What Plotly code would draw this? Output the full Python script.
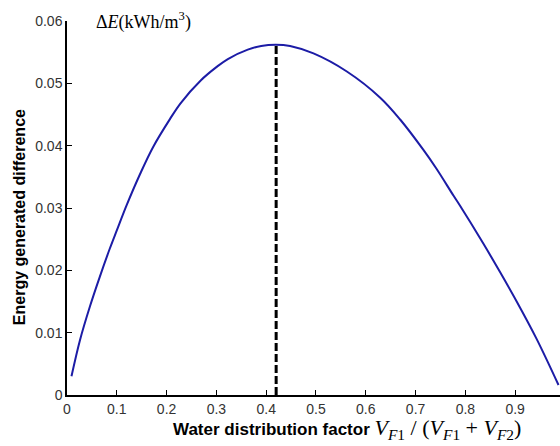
import plotly.graph_objects as go

# Data
x_vals = [0.009, 0.026, 0.046, 0.066, 0.086, 0.100, 0.120, 0.147, 0.173, 0.207, 0.228,
          0.269, 0.300, 0.323, 0.363, 0.390, 0.419, 0.448, 0.495, 0.562, 0.629, 0.669,
          0.715, 0.742, 0.776, 0.789, 0.836, 0.869, 0.903, 0.943, 0.987]
y_vals = [0.0030, 0.0088, 0.0142, 0.0190, 0.0235, 0.0264, 0.0305, 0.0355, 0.0398, 0.0443,
          0.0468, 0.0505, 0.0526, 0.0539, 0.0554, 0.0560, 0.0562, 0.0560, 0.0548, 0.0519,
          0.0477, 0.0442, 0.0394, 0.0363, 0.0320, 0.0304, 0.0243, 0.0198, 0.0150, 0.0090,
          0.0016]
peak_x = 0.42
peak_y = 0.0562
x_ticks = [0, 0.1, 0.2, 0.3, 0.4, 0.5, 0.6, 0.7, 0.8, 0.9]
x_tick_labels = ["0", "0.1", "0.2", "0.3", "0.4", "0.5", "0.6", "0.7", "0.8", "0.9"]
y_ticks = [0, 0.01, 0.02, 0.03, 0.04, 0.05, 0.06]
y_tick_labels = ["0", "0.01", "0.02", "0.03", "0.04", "0.05", "0.06"]

fig = go.Figure()
fig.add_trace(go.Scatter(x=x_vals, y=y_vals, mode="lines",
                         line=dict(color="#1c1ca6", width=2, shape="spline", smoothing=1.0),
                         showlegend=False, hoverinfo="skip"))
fig.add_trace(go.Scatter(x=[peak_x, peak_x], y=[0, peak_y], mode="lines",
                         line=dict(color="black", width=3, dash="8px,3px"),
                         showlegend=False, hoverinfo="skip"))

tickfont = dict(family="Liberation Sans, Arial, sans-serif", size=14, color="#333333")
fig.update_layout(
    width=560, height=446,
    margin=dict(l=67, r=0, t=21, b=51),
    paper_bgcolor="white", plot_bgcolor="white",
    xaxis=dict(range=[0, 0.99], tickvals=x_ticks, ticktext=x_tick_labels,
               ticks="inside", ticklen=5, tickcolor="black", tickwidth=1,
               showline=True, linecolor="black", linewidth=1.5,
               showgrid=False, zeroline=False, tickfont=tickfont),
    yaxis=dict(range=[0, 0.06], tickvals=y_ticks, ticktext=y_tick_labels,
               ticks="inside", ticklen=5, tickcolor="black", tickwidth=1,
               showline=True, linecolor="black", linewidth=1.5,
               showgrid=False, zeroline=False, tickfont=tickfont),
)

fig.add_annotation(xref="paper", yref="paper", x=-0.095, y=0.476,
                   xanchor="center", yanchor="middle",
                   text="<b>Energy generated difference</b>", textangle=-90,
                   showarrow=False,
                   font=dict(family="Liberation Sans, Arial, sans-serif", size=16, color="black"))
fig.add_annotation(
    xref="paper", yref="paper", x=0.567, y=-0.133, xanchor="center", yanchor="bottom",
    text=("<b>Water distribution factor</b> "
          "<span style='font-family:Liberation Serif, Times New Roman, serif; font-size:22px'>"
          "<i>V</i><sub><i>F</i>1</sub> / (<i>V</i><sub><i>F</i>1</sub> + "
          "<i>V</i><sub><i>F</i>2</sub>)</span>"),
    showarrow=False,
    font=dict(family="Liberation Sans, Arial, sans-serif", size=17, color="black"))
fig.add_annotation(xref="paper", yref="paper", x=0.055, y=1.0, xanchor="left", yanchor="middle",
                   text="Δ<i>E</i>(kWh/m<sup>3</sup>)", showarrow=False,
                   font=dict(family="Liberation Serif, Times New Roman, serif", size=18, color="black"))

fig.write_html("out.html")
